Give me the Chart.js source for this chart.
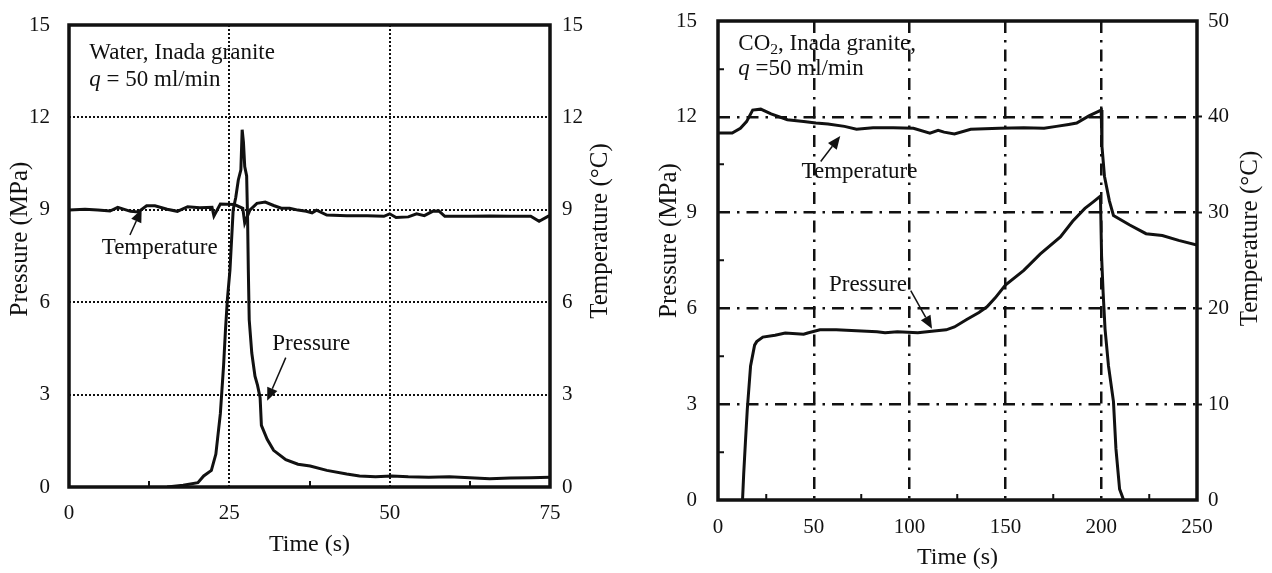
<!DOCTYPE html>
<html>
<head>
<meta charset="utf-8">
<script src="https://cdn.jsdelivr.net/npm/chart.js@4.4.1/dist/chart.umd.min.js"></script>
<style>
  html, body { margin: 0; padding: 0; background: #fff; }
  #wrap { position: relative; width: 1272px; height: 573px; overflow: hidden; }
  .panel { position: absolute; top: 0; width: 636px; height: 573px; }
  #panelWater { left: 0; }
  #panelCo2 { left: 636px; }
</style>
</head>
<body>
<div id="wrap">
  <div class="panel" id="panelWater"><canvas id="waterChart" width="636" height="573"></canvas></div>
  <div class="panel" id="panelCo2"><canvas id="co2Chart" width="636" height="573"></canvas></div>
</div>
<script>
/* --- DATA --- */

// Water, Inada granite: pressure (MPa) vs time (s)
const waterPressTime = [15.3, 17.8, 20.1, 21.0, 22.2, 22.9, 23.6, 24.1, 24.4, 24.7, 25.1, 25.6, 26.0, 26.4, 26.8, 27.0,
  27.2, 27.4, 27.7, 27.85, 27.96, 28.1, 28.5, 29.0, 29.4, 29.8, 30.0, 30.9, 31.9, 33.8, 35.7, 37.6, 40.2, 43.3,
  45.3, 47.8, 50.3, 52.9, 56.1, 59.3, 62.5, 65.6, 68.8, 72.0, 75.0];
const waterPress = [0, 0.06, 0.14, 0.36, 0.54, 1.07, 2.38, 3.93, 5.1, 6.1, 7.05, 9.0, 9.4, 9.97, 10.3, 11.6,
  11.2, 10.4, 10.1, 8.67, 7.05, 5.43, 4.35, 3.6, 3.3, 2.9, 2.0, 1.55, 1.19, 0.89, 0.74, 0.68, 0.54, 0.42,
  0.36, 0.33, 0.36, 0.33, 0.32, 0.33, 0.30, 0.27, 0.29, 0.30, 0.32];

// Water, Inada granite: temperature (°C) vs time (s)
const waterTempTime = [0, 2.5, 4.5, 6.4, 7.6, 9.6, 10.8, 12.1, 13.4, 15.3, 16.9, 18.5, 20.4, 22.3, 22.6, 23.6,
  25.8, 27.1, 27.4, 28.2, 29.3, 30.6, 31.9, 33.1, 34.4, 35.7, 37.0, 37.9, 38.6, 40.2, 43.3, 46.5, 49.1, 50.0,
  51.0, 52.9, 54.2, 55.4, 56.7, 57.7, 58.6, 62.5, 65.6, 68.8, 72.0, 73.3, 74.9];
const waterTemp = [8.99, 9.02, 8.99, 8.96, 9.08, 8.95, 8.93, 9.13, 9.13, 9.02, 8.95, 9.1, 9.07, 9.08, 8.8, 9.19,
  9.17, 9.05, 8.57, 8.99, 9.21, 9.25, 9.14, 9.05, 9.05, 8.99, 8.95, 8.9, 8.99, 8.83, 8.81, 8.81, 8.79, 8.87,
  8.75, 8.77, 8.87, 8.81, 8.95, 8.96, 8.79, 8.79, 8.8, 8.79, 8.79, 8.63, 8.81];

// CO2, Inada granite: pressure (MPa) vs time (s)
const co2PressTime = [12.8, 13.4, 14.3, 15.3, 17.0, 19.1, 20.2, 23.4, 29.8, 35.1, 44.7, 46.8, 53.2, 61.7, 72.3,
  83.0, 87.2, 93.6, 104.3, 112.8, 119.1, 123.4, 129.8, 136.2, 140.4, 144.7, 150.0, 159.6, 168.1, 178.7, 185.1,
  191.5, 195.7, 199.6, 200.2, 201.0, 202.0, 203.8, 206.4, 207.7, 209.6, 211.7];
const co2Press = [0, 0.8, 1.8, 2.85, 4.2, 4.85, 4.96, 5.1, 5.16, 5.23, 5.19, 5.23, 5.33, 5.33, 5.3,
  5.27, 5.24, 5.27, 5.24, 5.29, 5.33, 5.42, 5.65, 5.87, 6.05, 6.33, 6.73, 7.19, 7.7, 8.24, 8.73,
  9.13, 9.33, 9.52, 7.64, 6.5, 5.36, 4.2, 3.08, 1.6, 0.34, 0];

// CO2, Inada granite: temperature (°C) vs time (s)
const co2TempTime = [0.4, 7.4, 11.7, 14.9, 18.1, 22.3, 27.7, 36.2, 44.7, 51.1, 57.4, 66.0, 72.3, 80.9, 91.5,
  102.0, 110.6, 114.9, 118.0, 123.4, 131.9, 146.8, 159.6, 170.2, 176.6, 183.0, 187.2, 193.6, 200.0, 200.4,
  201.7, 204.3, 206.4, 214.9, 223.4, 231.9, 240.4, 250];
const co2Temp = [38.3, 38.3, 38.8, 39.5, 40.7, 40.8, 40.3, 39.7, 39.5, 39.35, 39.24, 39.0, 38.7, 38.86, 38.86,
  38.8, 38.3, 38.6, 38.4, 38.2, 38.7, 38.8, 38.86, 38.8, 39.0, 39.2, 39.35, 40.1, 40.7, 36.9,
  33.8, 31.2, 29.7, 28.7, 27.8, 27.6, 27.1, 26.6];

// axis ranges
const waterTimeRange = [0, 75];
const co2TimeRange = [0, 250];
const pressRange = [0, 15];
const waterTempRange = [0, 15];
const co2TempRange = [0, 50];

/* --- STYLE --- */
const INK = '#111';
const SERIF = '"Liberation Serif", "Times New Roman", serif';
const TICK_FONT = { family: SERIF, size: 21 };
const TITLE_SIZE = 25;
const NOTE_SIZE = 23;
const DOTTED = [2, 2];
const DASH_DOT = [12, 7, 2.5, 7];

const pts = (xs, ys) => xs.map((x, i) => ({ x, y: ys[i] }));
const isMult = (v, step) => Math.abs(v / step - Math.round(v / step)) < 1e-6;
const inside = (v, r) => v > r[0] + 1e-6 && v < r[1] - 1e-6;

function curve(data, axis) {
  return { data, yAxisID: axis, borderColor: INK, borderWidth: 3, pointRadius: 0, fill: false, tension: 0 };
}

// fixed axis box sizes, and no extra label padding pushed into the layout
const fixHeight = h => s => { s.height = h; s.paddingLeft = 0; s.paddingRight = 0; };
const fixWidth = w => s => { s.width = w; s.paddingTop = 0; s.paddingBottom = 0; };

/* --- PLUGINS: frame box, notes, arrows, rotated y titles --- */
function drawRuns(ctx, x, y, runs) {
  let cx = x;
  runs.forEach(r => {
    const size = r.sub ? NOTE_SIZE * 0.68 : NOTE_SIZE;
    ctx.font = (r.italic ? 'italic ' : '') + size + 'px ' + SERIF;
    ctx.fillText(r.text, cx, r.sub ? y + NOTE_SIZE * 0.24 : y);
    cx += ctx.measureText(r.text).width;
  });
}

function drawArrow(ctx, x1, y1, x2, y2) {
  const ang = Math.atan2(y2 - y1, x2 - x1);
  const len = 13, half = 5.5;
  const bx = x2 - len * Math.cos(ang), by = y2 - len * Math.sin(ang);
  ctx.lineWidth = 1.5;
  ctx.beginPath(); ctx.moveTo(x1, y1); ctx.lineTo(bx, by); ctx.stroke();
  ctx.beginPath();
  ctx.moveTo(x2, y2);
  ctx.lineTo(bx + half * Math.sin(ang), by - half * Math.cos(ang));
  ctx.lineTo(bx - half * Math.sin(ang), by + half * Math.cos(ang));
  ctx.closePath(); ctx.fill();
}

function makeDecor(notes, arrows, yTitles) {
  return {
    id: 'decor',
    afterDatasetsDraw(chart) {
      const { ctx, chartArea: a, scales } = chart;
      ctx.save();
      ctx.strokeStyle = INK;
      ctx.fillStyle = INK;
      ctx.lineWidth = 3.5;
      ctx.strokeRect(a.left, a.top, a.right - a.left, a.bottom - a.top);

      ctx.textBaseline = 'middle';
      ctx.textAlign = 'left';
      notes.forEach(n => drawRuns(ctx, scales.x.getPixelForValue(n.at[0]), scales.y.getPixelForValue(n.at[1]), n.runs));

      arrows.forEach(ar => drawArrow(ctx,
        scales.x.getPixelForValue(ar.from[0]), scales.y.getPixelForValue(ar.from[1]),
        scales.x.getPixelForValue(ar.to[0]), scales.y.getPixelForValue(ar.to[1])));

      ctx.font = TITLE_SIZE + 'px ' + SERIF;
      ctx.textAlign = 'center';
      yTitles.forEach(t => {
        const x = t.side === 'left' ? a.left - t.gap : a.right + t.gap;
        ctx.save();
        ctx.translate(x, (a.top + a.bottom) / 2 + t.shift);
        ctx.rotate(-Math.PI / 2);
        ctx.fillText(t.text, 0, 0);
        ctx.restore();
      });
      ctx.restore();
    }
  };
}

/* --- WATER PANEL --- */
new Chart(document.getElementById('waterChart'), {
  type: 'line',
  data: {
    datasets: [
      curve(pts(waterPressTime, waterPress), 'y'),
      curve(pts(waterTempTime, waterTemp), 'yR')
    ]
  },
  options: {
    responsive: false, animation: false, devicePixelRatio: 1, events: [],
    layout: { padding: { top: 25, left: 0, right: 0, bottom: 0 } },
    plugins: { legend: { display: false }, tooltip: { enabled: false } },
    scales: {
      x: {
        type: 'linear', min: waterTimeRange[0], max: waterTimeRange[1],
        afterFit: fixHeight(86),
        ticks: { stepSize: 12.5, autoSkip: false, maxRotation: 0, padding: 20, font: TICK_FONT, color: INK,
          callback: v => (isMult(v, 25) ? v : '') },
        grid: {
          lineWidth: 2, tickLength: -6, tickColor: INK,
          color: c => (isMult(c.tick.value, 25) && inside(c.tick.value, waterTimeRange) ? INK : 'transparent'),
          tickWidth: c => (isMult(c.tick.value, 25) ? 0 : 2)
        },
        border: { display: false, dash: DOTTED },
        title: { display: true, text: 'Time (s)', color: INK, font: { family: SERIF, size: 24 }, padding: { top: 0, bottom: 14 } }
      },
      y: {
        position: 'left', min: pressRange[0], max: pressRange[1],
        afterFit: fixWidth(69),
        ticks: { stepSize: 3, padding: 19, font: TICK_FONT, color: INK },
        grid: { lineWidth: 2, drawTicks: false, color: c => (inside(c.tick.value, pressRange) ? INK : 'transparent') },
        border: { display: false, dash: DOTTED }
      },
      yR: {
        position: 'right', min: waterTempRange[0], max: waterTempRange[1],
        afterFit: fixWidth(86),
        ticks: { stepSize: 3, padding: 12, font: TICK_FONT, color: INK },
        grid: { drawOnChartArea: false, drawTicks: false },
        border: { display: false }
      }
    }
  },
  plugins: [makeDecor(
    [
      { at: [3.17, 14.08], runs: [{ text: 'Water, Inada granite' }] },
      { at: [3.17, 13.21], runs: [{ text: 'q', italic: true }, { text: ' = 50 ml/min' }] },
      { at: [5.1, 7.76], runs: [{ text: 'Temperature' }] },
      { at: [31.7, 4.64], runs: [{ text: 'Pressure' }] }
    ],
    [
      { from: [9.5, 8.18], to: [11.33, 9.02] },
      { from: [33.8, 4.2], to: [30.9, 2.8] }
    ],
    [
      { side: 'left', gap: 49, shift: -17, text: 'Pressure (MPa)' },
      { side: 'right', gap: 50, shift: -25, text: 'Temperature (°C)' }
    ]
  )]
});

/* --- CO2 PANEL --- */
new Chart(document.getElementById('co2Chart'), {
  type: 'line',
  data: {
    datasets: [
      curve(pts(co2PressTime, co2Press), 'y'),
      curve(pts(co2TempTime, co2Temp), 'yR')
    ]
  },
  options: {
    responsive: false, animation: false, devicePixelRatio: 1, events: [],
    layout: { padding: { top: 21, left: 0, right: 0, bottom: 0 } },
    plugins: { legend: { display: false }, tooltip: { enabled: false } },
    scales: {
      x: {
        type: 'linear', min: co2TimeRange[0], max: co2TimeRange[1],
        afterFit: fixHeight(73),
        ticks: { stepSize: 25, autoSkip: false, maxRotation: 0, padding: 21, font: TICK_FONT, color: INK,
          callback: v => (isMult(v, 50) ? v : '') },
        grid: {
          lineWidth: 2.5, tickLength: -6, tickColor: INK,
          color: c => (isMult(c.tick.value, 50) && inside(c.tick.value, co2TimeRange) ? INK : 'transparent'),
          tickWidth: c => (isMult(c.tick.value, 50) ? 0 : 2)
        },
        border: { display: false, dash: DASH_DOT },
        title: { display: true, text: 'Time (s)', color: INK, font: { family: SERIF, size: 24 }, padding: { top: 0, bottom: 1 } }
      },
      y: {
        position: 'left', min: pressRange[0], max: pressRange[1],
        afterFit: fixWidth(82),
        ticks: { stepSize: 1.5, autoSkip: false, padding: 27, font: TICK_FONT, color: INK,
          callback: v => (isMult(v, 3) ? v : '') },
        grid: {
          lineWidth: 2.5, tickLength: -6, tickColor: INK,
          color: c => (isMult(c.tick.value, 3) && inside(c.tick.value, pressRange) ? INK : 'transparent'),
          tickWidth: c => (isMult(c.tick.value, 3) ? 0 : 2)
        },
        border: { display: false, dash: DASH_DOT }
      },
      yR: {
        position: 'right', min: co2TempRange[0], max: co2TempRange[1],
        afterFit: fixWidth(75),
        ticks: { stepSize: 10, padding: 6, font: TICK_FONT, color: INK },
        grid: {
          drawOnChartArea: false, tickLength: 5, tickColor: INK,
          tickWidth: c => (inside(c.tick.value, co2TempRange) ? 2 : 0)
        },
        border: { display: false }
      }
    }
  },
  plugins: [makeDecor(
    [
      { at: [10.6, 14.28], runs: [{ text: 'CO' }, { text: '2', sub: true }, { text: ', Inada granite,' }] },
      { at: [10.6, 13.5], runs: [{ text: 'q', italic: true }, { text: ' =50 ml/min' }] },
      { at: [43.6, 10.27], runs: [{ text: 'Temperature' }] },
      { at: [57.9, 6.73], runs: [{ text: 'Pressure' }] }
    ],
    [
      { from: [53.6, 10.6], to: [63.8, 11.4] },
      { from: [100.6, 6.56], to: [111.7, 5.36] }
    ],
    [
      { side: 'left', gap: 49, shift: -20, text: 'Pressure (MPa)' },
      { side: 'right', gap: 53, shift: -22, text: 'Temperature (°C)' }
    ]
  )]
});
</script>
</body>
</html>
